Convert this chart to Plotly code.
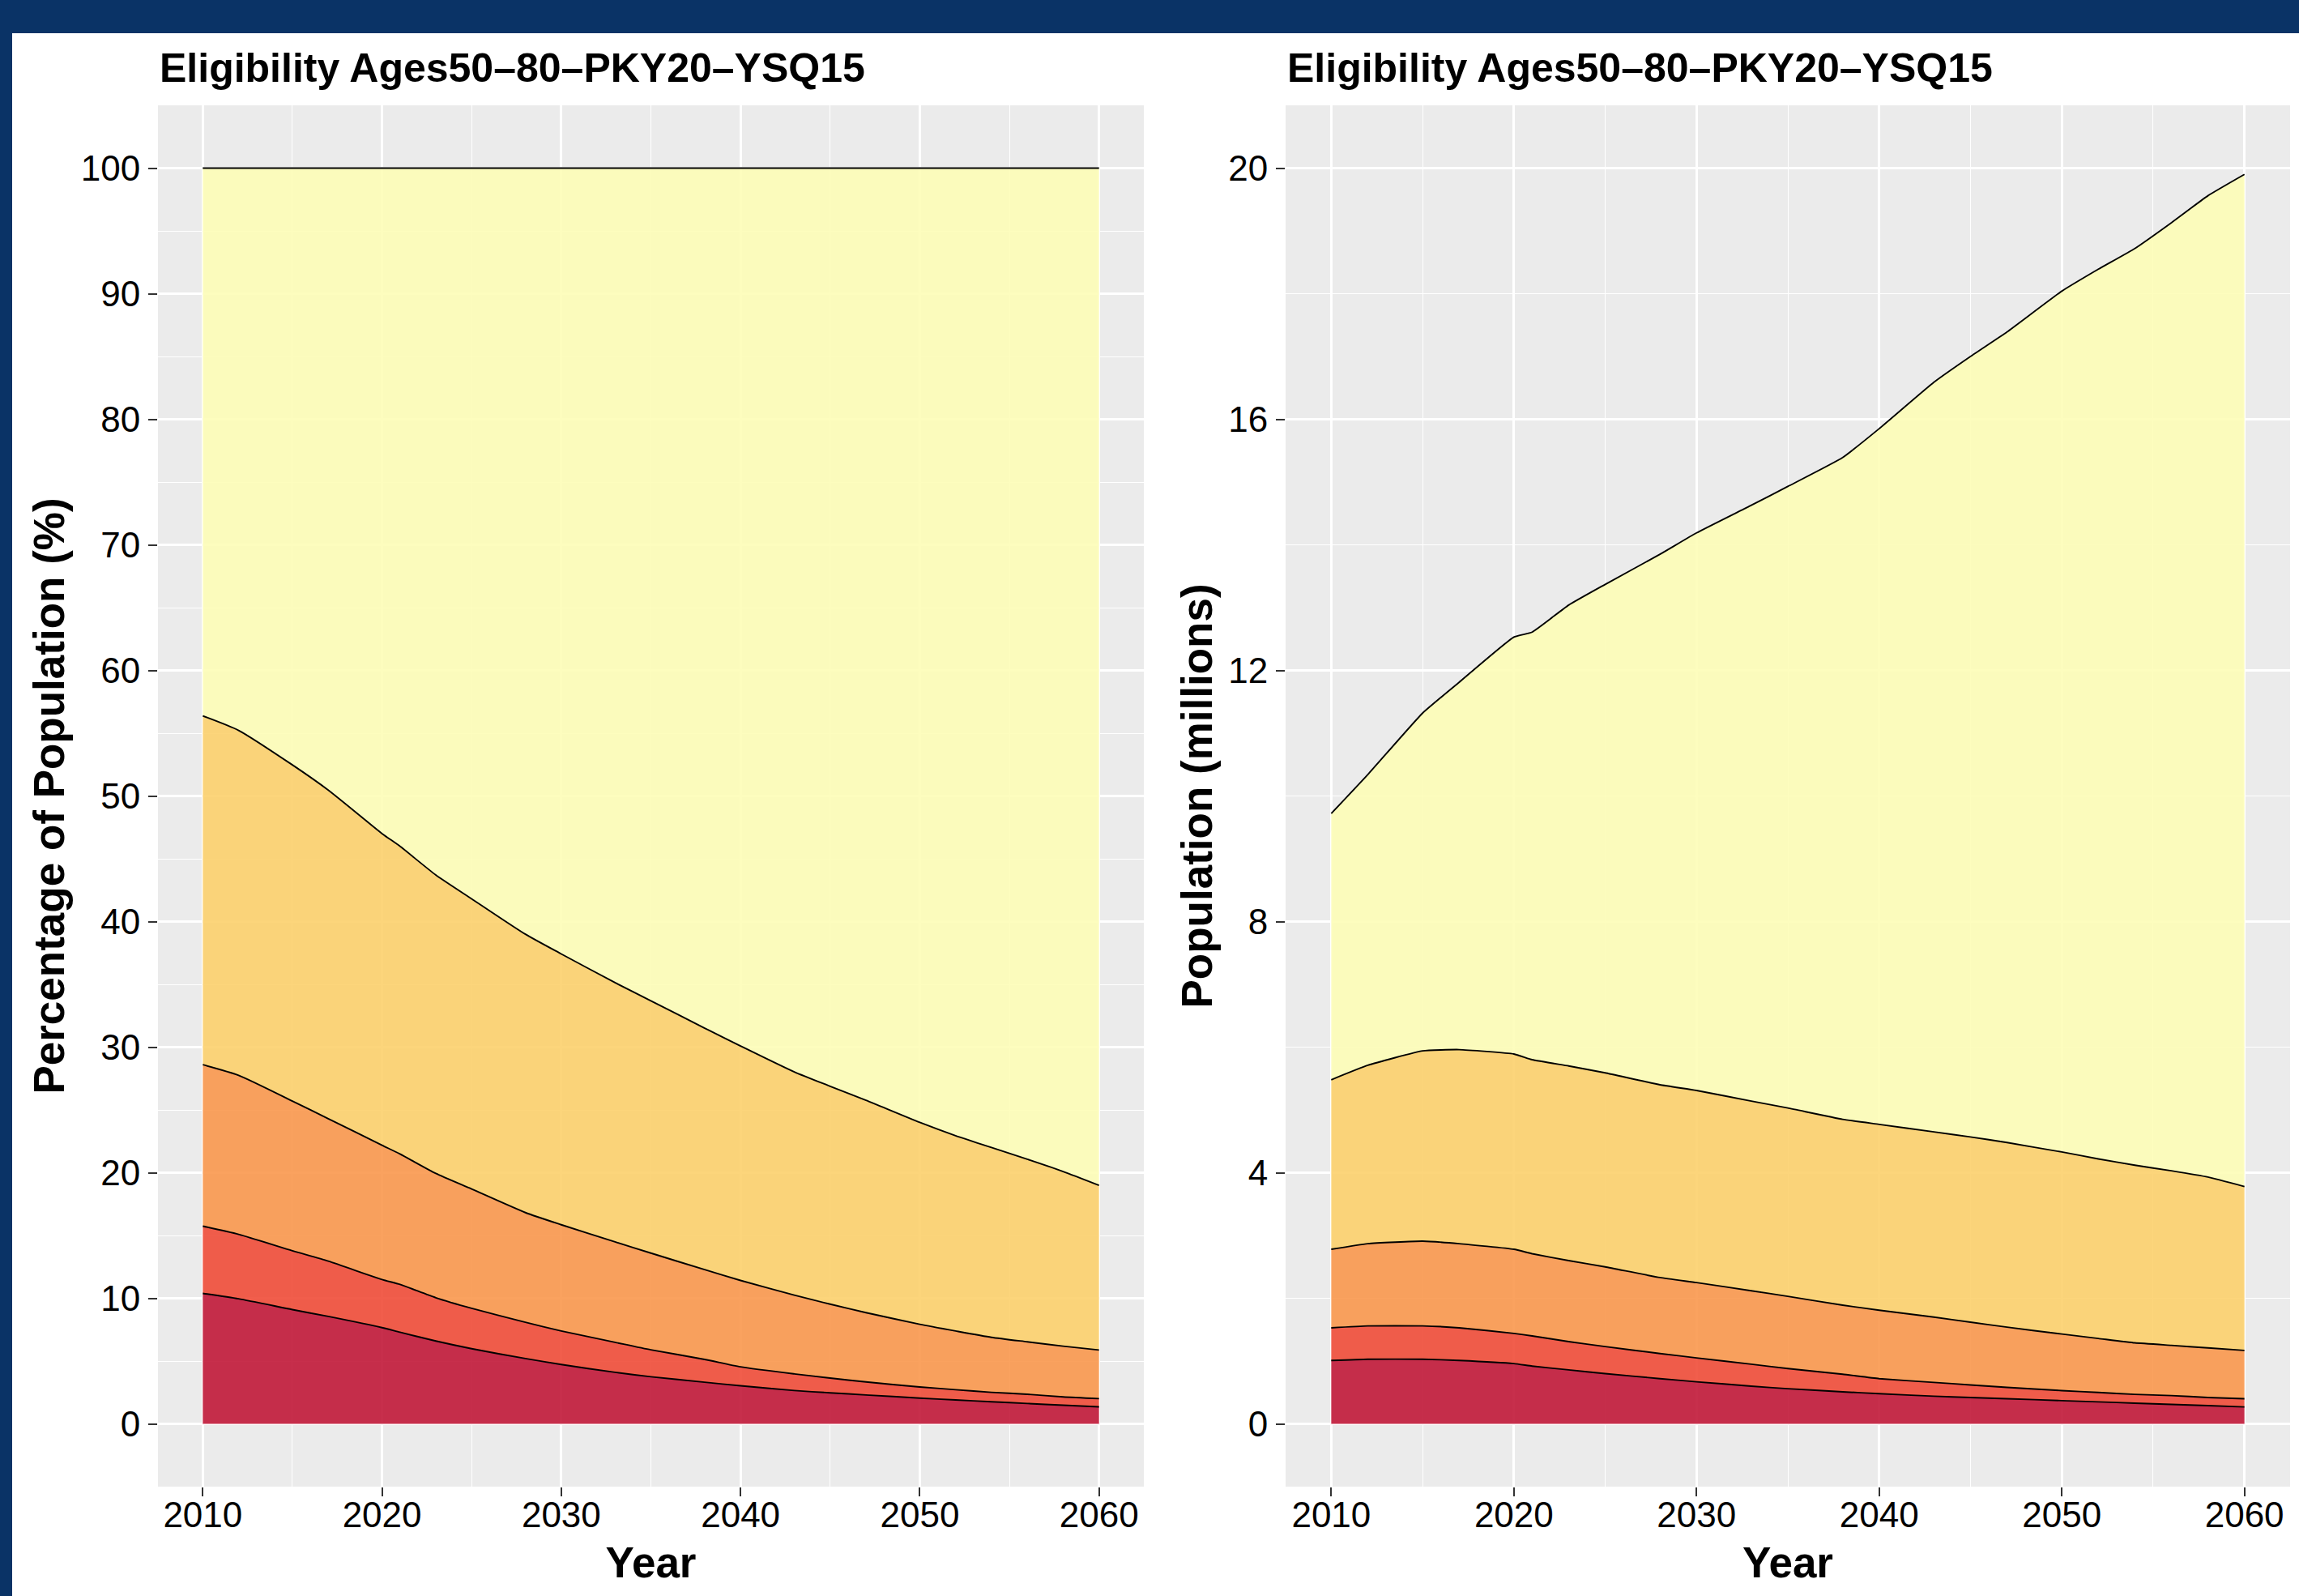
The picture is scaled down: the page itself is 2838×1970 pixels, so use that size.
import plotly.graph_objects as go

# ---------------- data (millions of people) ----------------
years = [2010, 2012, 2015, 2017, 2020, 2021, 2023, 2025, 2028, 2030, 2033, 2035,
         2038, 2040, 2043, 2045, 2047, 2050, 2052, 2054, 2056, 2058, 2060]

layer1 = [1.01, 1.03, 1.03, 1.01, 0.96, 0.92, 0.86, 0.80, 0.72, 0.67, 0.60, 0.56,
          0.51, 0.48, 0.44, 0.42, 0.40, 0.37, 0.35, 0.33, 0.31, 0.29, 0.27]
layer2 = [0.52, 0.53, 0.53, 0.52, 0.48, 0.48, 0.45, 0.43, 0.40, 0.38, 0.35, 0.32,
          0.28, 0.24, 0.22, 0.20, 0.18, 0.16, 0.15, 0.14, 0.14, 0.13, 0.13]
layer3 = [1.25, 1.31, 1.35, 1.34, 1.34, 1.31, 1.29, 1.27, 1.21, 1.20, 1.17, 1.15,
          1.10, 1.09, 1.04, 1.00, 0.96, 0.90, 0.86, 0.82, 0.80, 0.79, 0.77]
layer4 = [2.70, 2.84, 3.03, 3.09, 3.11, 3.09, 3.10, 3.09, 3.07, 3.06, 3.02, 3.00,
          2.96, 2.96, 2.95, 2.95, 2.94, 2.90, 2.86, 2.83, 2.78, 2.72, 2.61]
layer5 = [4.24, 4.63, 5.38, 5.85, 6.64, 6.81, 7.34, 7.78, 8.45, 8.88, 9.49, 9.90,
          10.54, 11.08, 11.94, 12.43, 12.91, 13.71, 14.17, 14.60, 15.10, 15.63, 16.12]

layer_names = ["Group 1", "Group 2", "Group 3", "Group 4", "Group 5"]
layers = [layer1, layer2, layer3, layer4, layer5]

title_text = "Eligibility Ages50\u201380\u2013PKY20\u2013YSQ15"
x_ticks = [2010, 2020, 2030, 2040, 2050, 2060]
left_ticks = [0, 10, 20, 30, 40, 50, 60, 70, 80, 90, 100]
right_ticks = [0, 4, 8, 12, 16, 20]

# ---------------- styling ----------------
fills = ["rgba(193,24,57,0.9)", "rgba(239,77,56,0.9)", "rgba(249,152,78,0.9)",
         "rgba(252,208,109,0.9)", "rgba(253,253,183,0.9)"]
W, H = 2838, 1970
FONT = "Liberation Sans, Arial, Helvetica, sans-serif"

def px_x(p):
    return p / W

def px_y(p):
    return 1 - p / H

fig = go.Figure()
for name, vals, col in zip(layer_names, layers, fills):
    fig.add_trace(go.Scatter(x=years, y=vals, name=name, mode="lines",
                             stackgroup="pct", groupnorm="percent",
                             line=dict(color="black", width=1.9, shape="spline", smoothing=0.6),
                             fillcolor=col, xaxis="x", yaxis="y",
                             showlegend=False))
for name, vals, col in zip(layer_names, layers, fills):
    fig.add_trace(go.Scatter(x=years, y=vals, name=name, mode="lines",
                             stackgroup="abs",
                             line=dict(color="black", width=1.9, shape="spline", smoothing=0.4),
                             fillcolor=col, xaxis="x2", yaxis="y2",
                             showlegend=False))

ydom = [px_y(1835), px_y(130)]
common_axis = dict(
    showgrid=True, gridcolor="white", gridwidth=2.6,
    zeroline=False, showline=False,
    ticks="outside", ticklen=11, tickwidth=2.4, tickcolor="#333333",
    tickfont=dict(family=FONT, size=44, color="black"),
    automargin=False,
)
TFONT = dict(family=FONT, size=53, color="black")

x_common = dict(common_axis, range=[2007.5, 2062.5], tickvals=x_ticks,
                ticklabelstandoff=-15,
                minor=dict(dtick=5, tick0=2010, showgrid=True, gridcolor="white",
                           gridwidth=1.3, ticks=""),
                title=dict(text="<b>Year</b>", font=TFONT, standoff=17))

fig.update_layout(
    width=W, height=H,
    margin=dict(l=0, r=0, t=0, b=0),
    paper_bgcolor="white", plot_bgcolor="#EBEBEB",
    template="none",
    showlegend=False,
    xaxis=dict(x_common, domain=[px_x(195), px_x(1412)], anchor="y"),
    xaxis2=dict(x_common, domain=[px_x(1587), px_x(2827)], anchor="y2"),
    yaxis=dict(common_axis, domain=ydom, anchor="x", range=[-5, 105],
               tickvals=left_ticks, ticklabelstandoff=1,
               minor=dict(dtick=5, tick0=0, showgrid=True, gridcolor="white",
                          gridwidth=1.3, ticks=""),
               title=dict(text="<b>Percentage of Population (%)</b>",
                          font=TFONT, standoff=3)),
    yaxis2=dict(common_axis, domain=ydom, anchor="x2", range=[-1, 21],
                tickvals=right_ticks, ticklabelstandoff=1,
                minor=dict(dtick=2, tick0=0, showgrid=True, gridcolor="white",
                           gridwidth=1.3, ticks=""),
                title=dict(text="<b>Population (millions)</b>",
                           font=TFONT, standoff=2)),
)

# panel titles
for xp in (195, 1587):
    fig.add_annotation(text="<b>" + title_text + "</b>", xref="paper", yref="paper",
                       x=px_x(xp), y=px_y(84), xanchor="left", yanchor="middle",
                       showarrow=False, font=dict(family=FONT, size=50, color="black"))

# dark frame (top and left bands)
fig.add_shape(type="rect", xref="paper", yref="paper", x0=0, x1=1,
              y0=px_y(41), y1=1, fillcolor="#0A3366", line=dict(width=0), layer="above")
fig.add_shape(type="rect", xref="paper", yref="paper", x0=0, x1=px_x(15),
              y0=0, y1=1, fillcolor="#0A3366", line=dict(width=0), layer="above")

fig.write_html("out.html", config={"displayModeBar": False},
               post_script="document.body.style.margin='0px';document.body.style.overflow='hidden';")
